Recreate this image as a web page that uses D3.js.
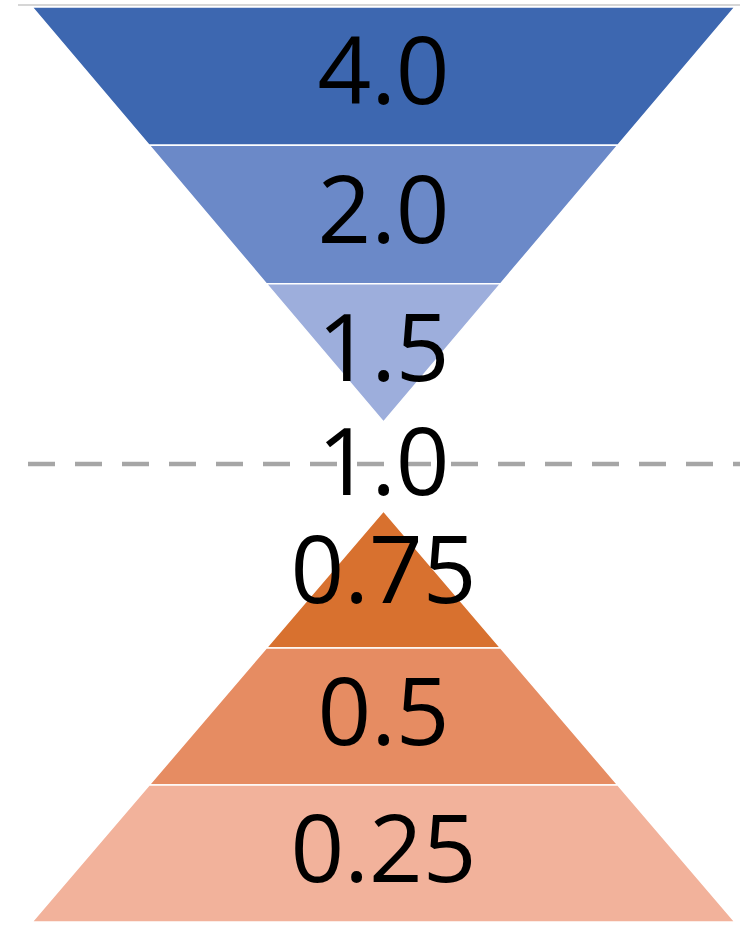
<!DOCTYPE html>
<html>
<head>
<meta charset="utf-8">
<script src="https://cdn.jsdelivr.net/npm/d3@7"></script>
<style>
  html, body { margin: 0; padding: 0; background: #fff; }
  svg { display: block; }
</style>
</head>
<body>
<svg id="chart" width="750" height="926"></svg>
<script>
// ---- data ----
const upperLabels = ["4.0", "2.0", "1.5"];          // from wide top to apex
const upperColors = ["#3D67B0", "#6B89C8", "#9DAEDC"];
const lowerLabels = ["0.75", "0.5", "0.25"];        // from apex to wide base
const lowerColors = ["#D8712F", "#E68C62", "#F2B29B"];
const midLabel = "1.0";

// ---- layout ----
const svg = d3.select("#chart");
const cx = 383.5, halfW = 351.5;

const yUpper = d3.scaleLinear().domain([0, upperLabels.length]).range([7, 422]);
const wUpper = d3.scaleLinear().domain([0, upperLabels.length]).range([halfW, 0]);
const yLower = d3.scaleLinear().domain([0, lowerLabels.length]).range([511, 922]);
const wLower = d3.scaleLinear().domain([0, lowerLabels.length]).range([0, halfW]);
const yMid = 464;

function bandPath(y, w, i) {
  const y0 = y(i), y1 = y(i + 1), w0 = w(i), w1 = w(i + 1);
  return d3.line()([[cx - w0, y0], [cx + w0, y0], [cx + w1, y1], [cx - w1, y1]]) + "Z";
}

// faint top edge line
svg.append("line")
  .attr("x1", 18).attr("x2", 740).attr("y1", 5).attr("y2", 5)
  .attr("stroke", "#d6d6d6").attr("stroke-width", 2);

const upper = svg.append("g");
upper.selectAll("path").data(upperLabels).join("path")
  .attr("d", (d, i) => bandPath(yUpper, wUpper, i))
  .attr("fill", (d, i) => upperColors[i])
  .attr("stroke", "#fff").attr("stroke-width", 1.5).attr("stroke-linejoin", "miter");

const lower = svg.append("g");
lower.selectAll("path").data(lowerLabels).join("path")
  .attr("d", (d, i) => bandPath(yLower, wLower, i))
  .attr("fill", (d, i) => lowerColors[i])
  .attr("stroke", "#fff").attr("stroke-width", 1.5).attr("stroke-linejoin", "miter");

// dashed reference line
svg.append("line")
  .attr("x1", 28).attr("x2", 740).attr("y1", yMid).attr("y2", yMid)
  .attr("stroke", "#A6A6A6").attr("stroke-width", 4.5)
  .attr("stroke-dasharray", "27,20");

// labels
const font = "'Open Sans', 'Noto Sans', sans-serif";
const fs = 94;
const baseOff = 28;  // baseline offset from band centre

upper.selectAll("text").data(upperLabels).join("text")
  .attr("x", cx)
  .attr("y", (d, i) => (yUpper(i) + yUpper(i + 1)) / 2 + baseOff)
  .attr("text-anchor", "middle")
  .attr("font-family", font).attr("font-size", fs).attr("fill", "#000")
  .text(d => d);

lower.selectAll("text").data(lowerLabels).join("text")
  .attr("x", cx)
  .attr("y", (d, i) => (yLower(i) + yLower(i + 1)) / 2 + baseOff - (i === 0 ? 5 : 0))
  .attr("text-anchor", "middle")
  .attr("font-family", font).attr("font-size", fs).attr("fill", "#000")
  .text(d => d);

svg.append("text")
  .attr("x", cx).attr("y", yMid + 31)
  .attr("text-anchor", "middle")
  .attr("font-family", font).attr("font-size", fs).attr("fill", "#000")
  .text(midLabel);
</script>
</body>
</html>
